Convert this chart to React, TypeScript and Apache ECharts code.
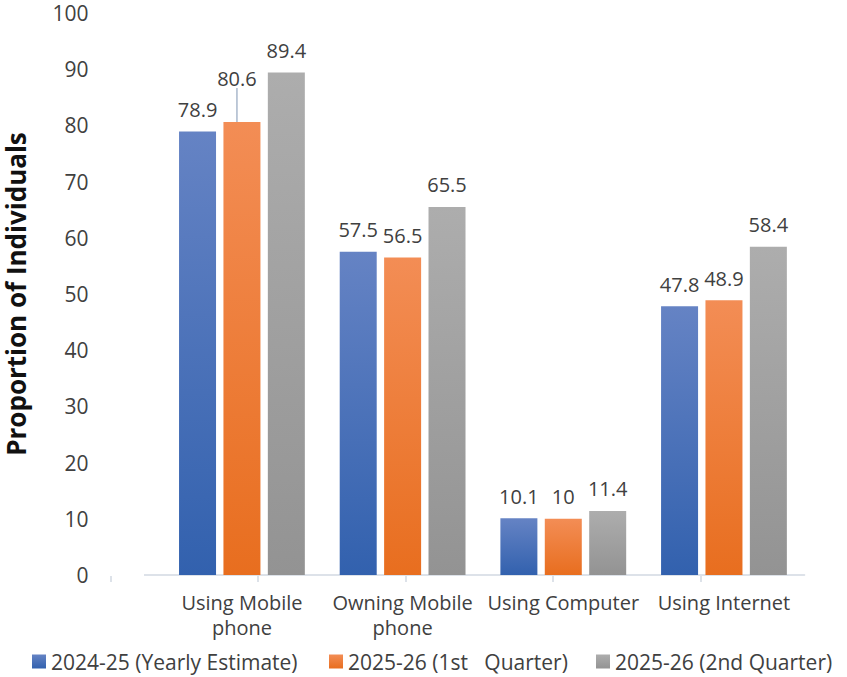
import React, { useEffect, useRef } from "react";
import * as echarts from "echarts";

const categories = ["Using Mobile\nphone", "Owning Mobile\nphone", "Using Computer", "Using Internet"];
const seriesNames = ["2024-25 (Yearly Estimate)", "2025-26 (1st\u00a0\u00a0 Quarter)", "2025-26 (2nd Quarter)"];
const yearlyEstimate = [78.9, 57.5, 10.1, 47.8];
const firstQuarter = [80.6, 56.5, 10, 48.9];
const secondQuarter = [89.4, 65.5, 11.4, 58.4];
const yMin = 0;
const yMax = 100;
const yInterval = 10;

const FONT = "Open Sans";
const TEXT = "#404040";

const grad = (top: string, bottom: string) =>
  new echarts.graphic.LinearGradient(0, 0, 0, 1, [
    { offset: 0, color: top },
    { offset: 1, color: bottom },
  ]);

export default function App() {
  const ref = useRef<HTMLDivElement>(null);
  useEffect(() => {
    if (!ref.current) return;
    const chart = echarts.init(ref.current, undefined, { renderer: "svg" });
    const colors = [
      grad("#6583C4", "#3261AE"),
      grad("#F38D55", "#E86E1F"),
      grad("#ADADAD", "#939393"),
    ];
    const values = [yearlyEstimate, firstQuarter, secondQuarter];
    const axisColor = "#DDE2E9";
    const tickXs = [111, 258, 406, 553, 701];
    const option: any = {
      animation: false,
      textStyle: { fontFamily: FONT },
      grid: {
        left: 161.6,
        right: 42.7,
        top: 13,
        bottom: 102,
        containLabel: false,
        outerBoundsMode: "none",
      },
      legend: seriesNames.map((n, i) => ({
        data: [n],
        left: [32, 329, 596][i],
        top: 651,
        padding: 0,
        itemWidth: 14,
        itemHeight: 14,
        itemGap: 0,
        icon: "rect",
        textStyle: { fontFamily: FONT, fontSize: 21, color: TEXT },
      })),
      xAxis: {
        type: "category",
        data: categories,
        axisLine: { show: true, lineStyle: { color: axisColor, width: 2 } },
        axisTick: { show: false },
        axisLabel: {
          fontFamily: FONT,
          fontSize: 20,
          color: TEXT,
          lineHeight: 25,
          margin: 15,
          interval: 0,
        },
        splitLine: { show: false },
      },
      yAxis: {
        type: "value",
        min: yMin,
        max: yMax,
        interval: yInterval,
        name: "Proportion of Individuals",
        nameLocation: "middle",
        nameRotate: 90,
        nameGap: 133,
        nameTextStyle: {
          fontFamily: FONT,
          fontSize: 26,
          lineHeight: 26,
          fontWeight: "bold",
          color: "#111",
        },
        axisLine: { show: false },
        axisTick: { show: false },
        splitLine: { show: false },
        axisLabel: { fontFamily: FONT, fontSize: 21, color: TEXT, margin: 73 },
      },
      labelLayout: (params: any) => {
        if (params.seriesIndex === 1 && params.dataIndex === 0) {
          return { dx: -5, dy: -22 };
        }
        return {};
      },
      series: values.map((v, i) => ({
        type: "bar",
        name: seriesNames[i],
        data: v.map((val, j) =>
          i === 1 && j === 0
            ? { value: val, labelLine: { show: true, lineStyle: { color: "#A9B8CC", width: 1.5 } } }
            : val
        ),
        barWidth: 37,
        barGap: "20%",
        itemStyle: { color: colors[i] },
        label: {
          show: true,
          position: "top",
          distance: 12,
          fontFamily: FONT,
          fontSize: 20,
          color: TEXT,
        },
        labelLine: { show: false },
      })),
      graphic: [
        {
          type: "line",
          shape: { x1: 144, y1: 575, x2: 162, y2: 575 },
          style: { stroke: axisColor, lineWidth: 2 },
          silent: true,
        },
        ...tickXs.map((x) => ({
          type: "line",
          shape: { x1: x, y1: 576, x2: x, y2: 582 },
          style: { stroke: axisColor, lineWidth: 2 },
          silent: true,
        })),
      ],
    };
    chart.setOption(option);
    return () => chart.dispose();
  }, []);
  return (
    <div
      ref={ref}
      style={{ position: "absolute", left: 0, top: 0, width: 847, height: 677, background: "#fff" }}
    />
  );
}
